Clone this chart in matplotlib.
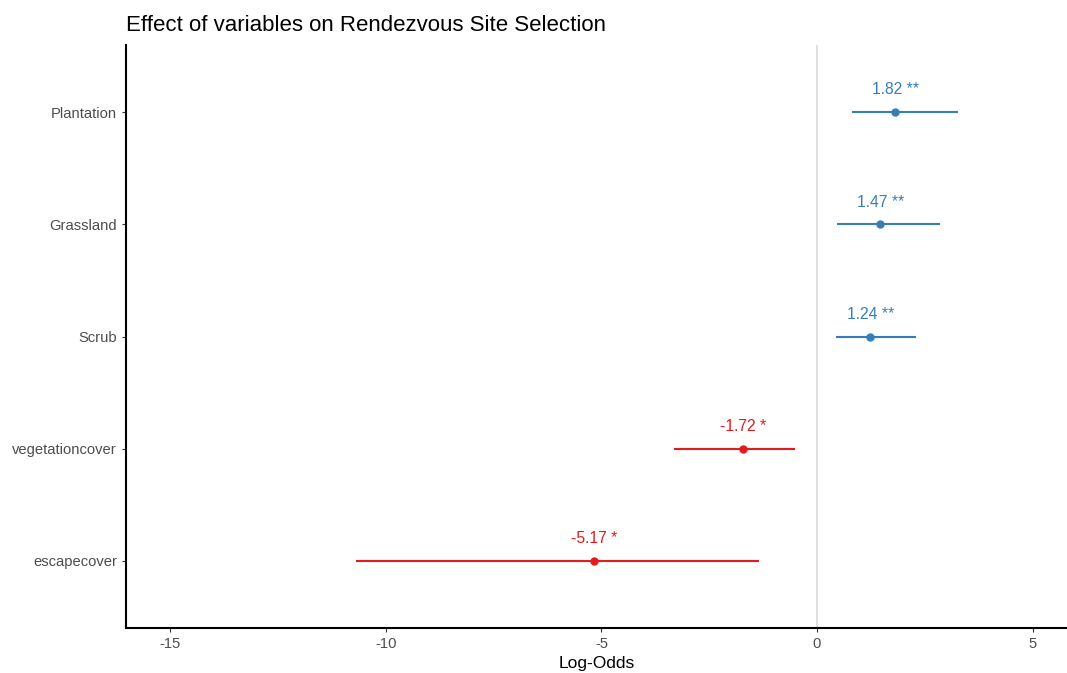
import numpy as np
import matplotlib.pyplot as plt

plt.rcParams['font.family'] = ['Liberation Sans', 'DejaVu Sans']
plt.rcParams['axes.unicode_minus'] = False

terms = ['escapecover', 'vegetationcover', 'Scrub', 'Grassland', 'Plantation']
estimates = [-5.17, -1.72, 1.24, 1.47, 1.82]
ci_low = [-10.70, -3.32, 0.44, 0.46, 0.81]
ci_high = [-1.35, -0.51, 2.30, 2.85, 3.27]
stars = ['*', '*', '**', '**', '**']

blue = '#377eb8'
red = '#e41a1c'

fig = plt.figure(figsize=(10.67, 6.73), dpi=100)
ax = fig.add_axes([0.118, 0.067, 0.882, 0.866])

ax.axvline(0, color='#d9d9d9', lw=1.2, zorder=0)

ypos = np.arange(1, len(terms) + 1)
for y, est, lo, hi, s in zip(ypos, estimates, ci_low, ci_high, stars):
    col = blue if est > 0 else red
    ax.plot([lo, hi], [y, y], color=col, lw=1.5, solid_capstyle='butt')
    ax.plot(est, y, 'o', color=col, ms=5)
    ax.text(est, y + 0.2, '%.2f %s' % (est, s), color=col, fontsize=11.3,
            ha='center', va='center')

ax.set_xlim(-16.03, 5.8)
ax.set_ylim(0.4, 5.6)
ax.set_xticks([-15, -10, -5, 0, 5])
ax.set_yticks(ypos)
ax.set_yticklabels(terms)
ax.tick_params(labelsize=10.6, labelcolor='#4d4d4d', color='#333333', length=3)
ax.set_xlabel('Log-Odds', fontsize=12.5, labelpad=4)
ax.set_title('Effect of variables on Rendezvous Site Selection', fontsize=16,
             loc='left', pad=10)

for side in ['top', 'right']:
    ax.spines[side].set_visible(False)
for side in ['left', 'bottom']:
    ax.spines[side].set_linewidth(1.5)

fig.savefig('out.png', dpi=100)
